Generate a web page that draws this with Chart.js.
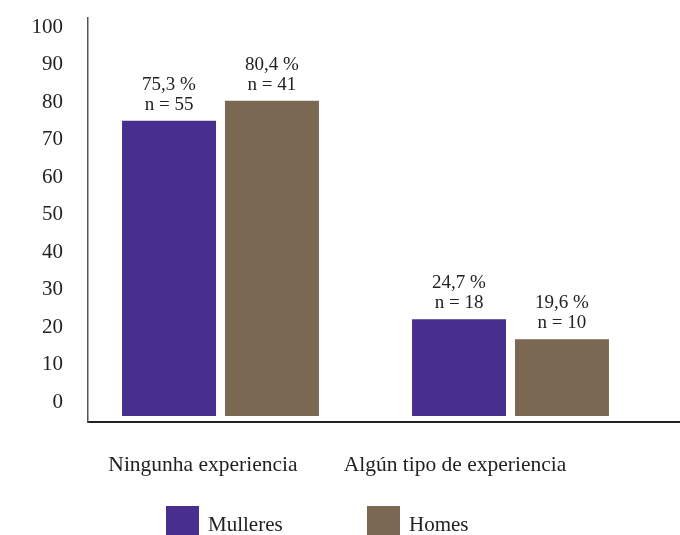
<!DOCTYPE html>
<html>
<head>
<meta charset="utf-8">
<script src="https://cdn.jsdelivr.net/npm/chart.js@4/dist/chart.umd.min.js"></script>
<style>
  html, body { margin: 0; padding: 0; background: #fff; overflow: hidden; }
  #wrap { position: relative; width: 680px; height: 535px; }
  #legend { position: absolute; left: 0; top: 506px; width: 680px; height: 30px;
            font-family: "Liberation Serif", serif; font-size: 21px; color: #222; }
  .item { position: absolute; top: 0; display: flex; align-items: center; height: 30px; }
  .item span { position: relative; top: 3px; }
  .box { width: 33px; height: 30px; margin-right: 9px; }
</style>
</head>
<body>
<div id="wrap">
  <canvas id="c" width="680" height="535"></canvas>
  <div id="legend"></div>
</div>
<script>
// ---- data ----
const categories = ["Ningunha experiencia", "Algún tipo de experiencia"];
const seriesNames = ["Mulleres", "Homes"];
const mulleres = [75.3, 24.7];
const homes = [80.4, 19.6];
const nMulleres = [55, 18];
const nHomes = [41, 10];
const yTickLabels = [0, 10, 20, 30, 40, 50, 60, 70, 80, 90, 100];

const colors = ["#482e8e", "#7a6853"];
const FONT = "Liberation Serif";

function toPoints(arr) { return arr.map((v, i) => ({ x: i, y: v })); }

const valueLabels = {
  id: 'valueLabels',
  afterDatasetsDraw(chart) {
    const ctx = chart.ctx;
    const ns = [nMulleres, nHomes];
    ctx.save();
    ctx.fillStyle = '#222';
    ctx.font = '19px "' + FONT + '"';
    ctx.textAlign = 'center';
    ctx.textBaseline = 'alphabetic';
    chart.data.datasets.forEach((ds, di) => {
      const meta = chart.getDatasetMeta(di);
      meta.data.forEach((bar, i) => {
        const v = ds.data[i].y;
        const pct = v.toFixed(1).replace('.', ',') + ' %';
        const n = 'n = ' + ns[di][i];
        ctx.fillText(n, bar.x, bar.y - 11);
        ctx.fillText(pct, bar.x, bar.y - 31);
      });
    });
    ctx.restore();
  }
};

const chart = new Chart(document.getElementById('c'), {
  type: 'bar',
  data: {
    datasets: [
      { label: seriesNames[0], data: toPoints(mulleres), backgroundColor: colors[0],
        xAxisID: 'xb', yAxisID: 'yb' },
      { label: seriesNames[1], data: toPoints(homes), backgroundColor: colors[1],
        xAxisID: 'xb', yAxisID: 'yb' }
    ]
  },
  options: {
    responsive: false,
    animation: false,
    devicePixelRatio: 1,
    layout: { padding: { top: 18, right: 0, bottom: 53, left: 0 } },
    datasets: { bar: { categoryPercentage: 0.71, barPercentage: 0.913 } },
    plugins: { legend: { display: false }, tooltip: { enabled: false } },
    scales: {
      xb: {
        type: 'linear', display: false, offset: false, min: -0.4569, max: 1.5845,
        afterBuildTicks: (s) => { s.ticks = categories.map((c, i) => ({ value: i })); }
      },
      yb: {
        type: 'linear', display: false, min: -1.53, max: 101.53
      },
      x: {
        type: 'linear', position: 'bottom', offset: false, min: -0.4563, max: 1.8929,
        afterBuildTicks: (s) => { s.ticks = categories.map((c, i) => ({ value: i })); },
        afterFit: (s) => { s.height = 60; s.paddingLeft = 0; s.paddingRight = 0; },
        grid: { display: false, drawTicks: false, offset: false },
        border: { display: true, color: '#222', width: 2 },
        ticks: {
          padding: 30, maxRotation: 0, autoSkip: false,
          color: '#222', font: { family: FONT, size: 21.5 },
          callback: (v) => categories[v]
        }
      },
      y: {
        type: 'linear', position: 'left', min: -5.333, max: 102.4,
        afterBuildTicks: (s) => { s.ticks = yTickLabels.map(v => ({ value: v })); },
        afterFit: (s) => { s.width = 88; s.paddingTop = 0; s.paddingBottom = 0; },
        grid: { display: false, drawTicks: false },
        border: { display: true, color: '#555', width: 1.5 },
        ticks: {
          padding: 25, color: '#222', font: { family: FONT, size: 21 },
          callback: (v) => String(v)
        }
      }
    }
  },
  plugins: [valueLabels]
});

// HTML legend built from the chart's datasets
const legend = document.getElementById('legend');
const legendLeft = [166, 367];
chart.data.datasets.forEach((ds, i) => {
  const it = document.createElement('div');
  it.className = 'item';
  it.style.left = legendLeft[i] + 'px';
  const b = document.createElement('div');
  b.className = 'box';
  b.style.background = ds.backgroundColor;
  const t = document.createElement('span');
  t.textContent = ds.label;
  it.appendChild(b); it.appendChild(t);
  legend.appendChild(it);
});
</script>
</body>
</html>
